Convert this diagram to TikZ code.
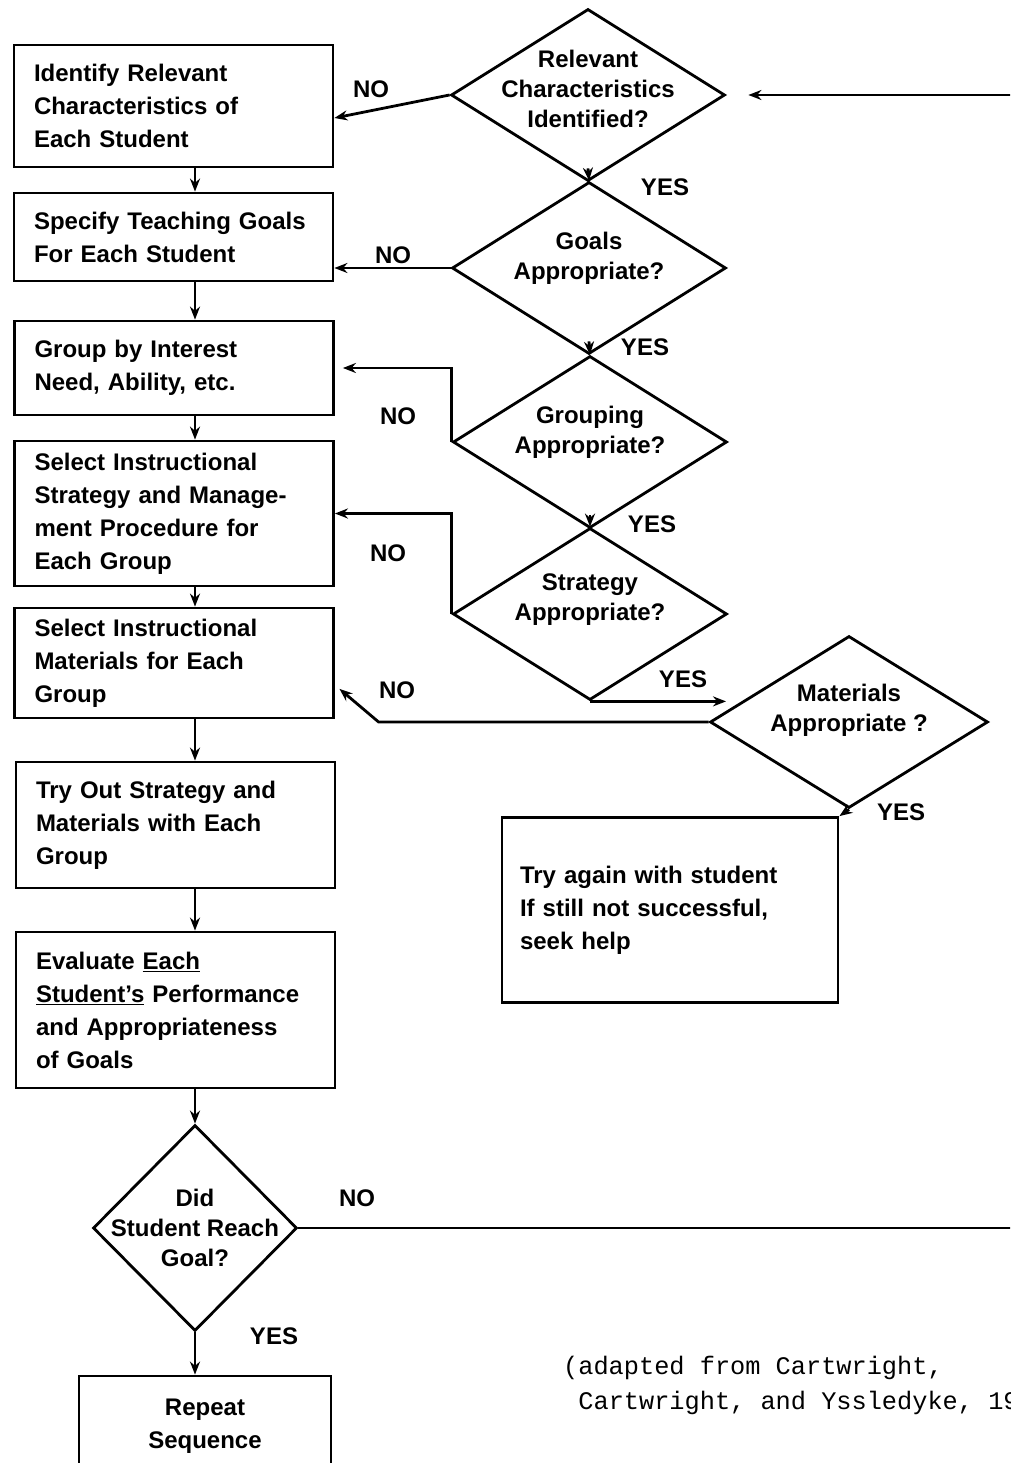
\documentclass[tikz,border=0pt]{standalone}
\usepackage{fontspec}
\setmainfont{Liberation Sans}
\setmonofont{Liberation Mono}
\usetikzlibrary{shapes.geometric,arrows.meta}

\tikzset{
	box/.style={draw, line width=2.8pt, rectangle, minimum width=319pt, text width=279pt, inner xsep=20pt, align=left, font=\fontsize{24}{33}\selectfont\bfseries},
	ask/.style={draw, line width=2.8pt, diamond, inner sep=0pt, minimum width=274pt, minimum height=172pt},
	asktext/.style={align=center, inner sep=0pt, font=\fontsize{24}{30}\selectfont\bfseries},
	word/.style={font=\fontsize{24}{30}\selectfont\bfseries},
	cite/.style={align=left, inner sep=0pt, font=\fontsize{25.3}{35}\selectfont\ttfamily},
	flow/.style={line width=2.8pt, -{Stealth[length=13pt,width=10pt]}},
}

\begin{document}
\begin{tikzpicture}[x=1pt, y=-1pt]
	
	\useasboundingbox (0,0) rectangle (1010,1463);
	\clip (0,0) rectangle (1010,1463);
	
	\node[box, minimum height=122pt] (s1) at (173.5,106) {Identify Relevant\\Characteristics of\\Each Student};
	\node[box, minimum height=88pt] (s2) at (173.5,237) {Specify Teaching Goals\\For Each Student};
	\node[box, minimum height=94pt] (s3) at (174,368) {Group by Interest\\Need, Ability, etc.};
	\node[box, minimum height=145pt] (s4) at (174,513.5) {Select Instructional\\Strategy and Manage-\\ment Procedure for\\Each Group};
	\node[box, minimum height=110pt] (s5) at (174,663) {Select Instructional\\Materials for Each\\Group};
	\node[box, minimum height=126pt] (s6) at (175.5,825) {Try Out Strategy and\\Materials with Each\\Group};
	\node[box, minimum height=156pt] (s7) at (175.5,1010) {Evaluate \underline{Each}\\\underline{Student's} Performance\\and Appropriateness\\of Goals};
	\node[ask, minimum width=204pt, minimum height=206pt, label={[asktext]center:{Did\\Student Reach\\Goal?}}] (qd) at (195,1228) {};
	\node[box, minimum width=252pt, text width=212pt, minimum height=100pt, align=center] (rep) at (205,1426) {Repeat\\Sequence};
	
	\node[ask, label={[asktext, yshift=6pt]center:{Relevant\\Characteristics\\Identified?}}] (q1) at (588,95) {};
	\node[ask, label={[asktext, yshift=10pt]center:{Goals\\Appropriate?}}] (q2) at (589,268) {};
	\node[ask, label={[asktext, yshift=10pt]center:{Grouping\\Appropriate?}}] (q3) at (590,442) {};
	\node[ask, label={[asktext, yshift=14pt]center:{Strategy\\Appropriate?}}] (q4) at (590,614) {};
	\node[ask, minimum width=278pt, label={[asktext, yshift=12pt]center:{Materials\\Appropriate ?}}] (q5) at (849,722) {};
	\node[box, minimum width=336pt, text width=300pt, inner xsep=18pt, minimum height=185pt] (try) at (670,910) {Try again with student\\If still not successful,\\seek help};
	
	\foreach \a/\b in {s1/s2,s2/s3,s3/s4,s4/s5,s5/s6,s6/s7,s7/qd}
		\draw[flow] (\a.south -| qd.north) -- (\b.north -| qd.north);
	\draw[flow] (qd.south) -- (qd.south |- rep.north);
	
	\draw[flow] ([yshift=14pt]q1.south) -- (q2.north);
	\draw[flow] ([yshift=14pt]q2.south) -- (q3.north);
	\draw[flow] ([yshift=14pt]q3.south) -- (q4.north);
	\draw[flow] (q4.south) -- ++(136,0);
	\draw[flow] (q5.south) -- (try.north east);
	
	\draw[flow] (q1.west) -- ([yshift=-12pt]s1.east);
	\draw[flow] (q2.west) -- (q2.west -| s2.east);
	\draw[flow, shorten >=8pt] (q3.west) |- (s3.east);
	\draw[flow] (q4.west) |- (s4.east);
	\draw[flow, shorten >=6pt] (q5.west) -- ++(-330,0) -- ([yshift=-22pt]s5.east);
	\draw[flow, shorten >=22pt] (qd.east) -- ++(760,0) |- (q1.east);
	
	\node[word] (n1) at (371,89) {NO};
	\node[word] (n2) at (393,255) {NO};
	\node[word] (n3) at (398,416) {NO};
	\node[word] (n4) at (388,553) {NO};
	\node[word] (n5) at (397,690) {NO};
	\node[word] (n6) at (357,1198) {NO};
	\node[word] (y1) at (665,187) {YES};
	\node[word] (y2) at (645,347) {YES};
	\node[word] (y3) at (652,524) {YES};
	\node[word] (y4) at (683,679) {YES};
	\node[word] (y5) at (901,812) {YES};
	\node[word] (y6) at (274,1336) {YES};
	
	\node[cite, anchor=north west] (src) at (563,1356) {(adapted from Cartwright,\\~Cartwright, and Yssledyke, 19};
	
\end{tikzpicture}
\end{document}
